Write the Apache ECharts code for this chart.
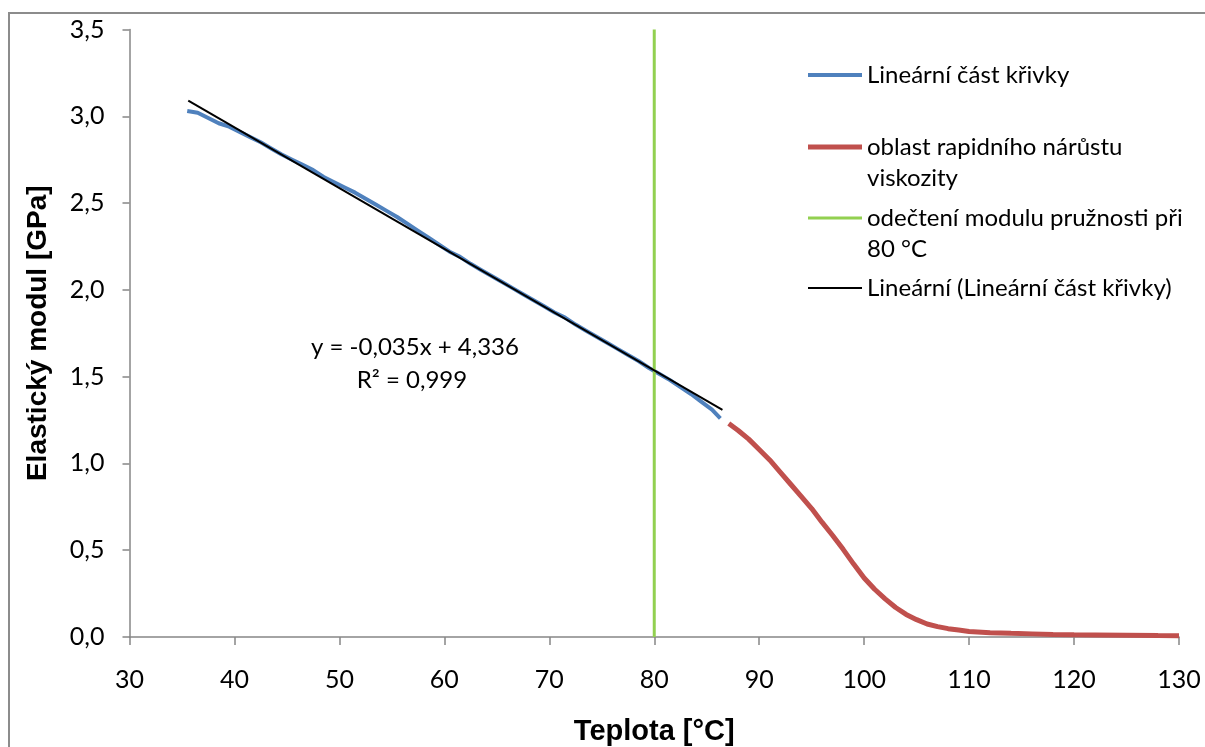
<!DOCTYPE html>
<html>
<head>
<meta charset="utf-8">
<script src="https://cdn.jsdelivr.net/npm/echarts@6/dist/echarts.min.js"></script>
<style>
html,body{margin:0;padding:0;background:#fff;}
#chart{width:1205px;height:747px;}
</style>
</head>
<body>
<div id="chart"></div>
<script>
// Blue: linear part of the curve [temperature °C, modulus GPa]
const linearPart = [
  [35.5,3.03],[36.5,3.02],[37.5,2.99],[38.5,2.96],[39.5,2.94],[40.5,2.91],[41.5,2.88],
  [42.5,2.85],[43.5,2.815],[44.5,2.78],[45.5,2.75],[46.5,2.72],[47.5,2.69],[48.5,2.65],
  [49.5,2.62],[50.5,2.59],[51.5,2.56],[52.5,2.525],[53.5,2.49],[54.5,2.455],[55.5,2.42],
  [56.5,2.38],[57.5,2.34],[58.5,2.30],[59.5,2.26],[60.5,2.22],[61.5,2.19],[62.5,2.15],
  [63.5,2.115],[64.5,2.08],[65.5,2.045],[66.5,2.01],[67.5,1.975],[68.5,1.94],[69.5,1.905],
  [70.5,1.87],[71.5,1.84],[72.5,1.80],[73.5,1.765],[74.5,1.73],[75.5,1.695],[76.5,1.66],
  [77.5,1.625],[78.5,1.59],[79.5,1.55],[80.5,1.515],[81.5,1.48],[82.5,1.44],[83.5,1.40],
  [84.5,1.355],[85.5,1.31],[86.3,1.26]
];
// Red: region of rapid viscosity increase
const rapidPart = [
  [87.1,1.23],[88.0,1.19],[89.0,1.14],[90.0,1.08],[91.0,1.02],[92.0,0.95],[93.0,0.88],
  [94.0,0.81],[95.0,0.74],[96.0,0.66],[97.0,0.585],[98.0,0.505],[99.0,0.42],[100.0,0.34],
  [101.0,0.275],[102.0,0.22],[103.0,0.17],[104.0,0.13],[105.0,0.10],[106.0,0.075],
  [107.0,0.06],[108.0,0.048],[109.0,0.04],[110.0,0.032],[112.0,0.025],[114.0,0.021],
  [116.0,0.018],[118.0,0.015],[120.0,0.013],[122.0,0.012],[125.0,0.010],[128.0,0.008],
  [130.0,0.007]
];
// Green: reading at 80 °C
const readLine80 = [[80,0],[80,3.5]];
// Black: linear trendline y = -0.035x + 4.336
const trendLine = [[35.6,3.090],[86.5,1.308]];

const seriesNames = [
  'Lineární část křivky',
  'oblast rapidního nárůstu viskozity',
  'odečtení modulu pružnosti při 80 °C',
  'Lineární (Lineární část křivky)'
];
const legendLabels = [
  'Lineární část křivky',
  '\noblast rapidního nárůstu\nviskozity',
  '\nodečtení modulu pružnosti při\n80 °C',
  'Lineární (Lineární část křivky)'
];
const equationText = ['y = -0,035x + 4,336', 'R² = 0,999'];
const xTitle = 'Teplota [°C]';
const yTitle = 'Elastický modul [GPa]';

const colors = ['#4F81BD','#C0504D','#92D050','#000000'];
const widths = [4,5,3,2];
const FONT = 'Lato, "Open Sans", sans-serif';
const LH = 31;

function makeLegend(i, top){
  return {
    show:true, selectedMode:false, orient:'vertical', left:808, top:top, padding:0,
    icon:'rect', itemWidth:54, itemHeight:widths[i],
    data:[{name:seriesNames[i], itemStyle:{color:colors[i]}}],
    formatter:function(){return legendLabels[i];},
    textStyle:{fontFamily:FONT, fontSize:24, color:'#000', lineHeight:LH}
  };
}

const chart = echarts.init(document.getElementById('chart'));
chart.setOption({
  animation:false,
  backgroundColor:'#fff',
  grid:{left:129.5, right:26, top:29.5, bottom:110, containLabel:false, outerBoundsMode:'none'},
  legend:[
    makeLegend(0, 75-LH/2),
    makeLegend(1, 147-1.5*LH),
    makeLegend(2, 218-1.5*LH),
    makeLegend(3, 288-LH/2)
  ],
  xAxis:{
    type:'value', min:30, max:130, interval:10,
    name:xTitle, nameLocation:'middle', nameGap:80,
    nameTextStyle:{fontFamily:'"Liberation Sans", Arial, sans-serif', fontWeight:'bold', fontSize:29, color:'#000'},
    axisLine:{show:true, lineStyle:{color:'#868686', width:1.5}},
    axisTick:{show:true, inside:false, length:8, lineStyle:{color:'#868686', width:1.5}},
    axisLabel:{fontFamily:FONT, fontSize:25, color:'#000', margin:30},
    splitLine:{show:false}
  },
  yAxis:{
    type:'value', min:0, max:3.5, interval:0.5,
    name:yTitle, nameLocation:'middle', nameGap:77, nameRotate:90,
    nameTextStyle:{fontFamily:'"Liberation Sans", Arial, sans-serif', fontWeight:'bold', fontSize:28, color:'#000'},
    axisLine:{show:true, lineStyle:{color:'#868686', width:1.5}},
    axisTick:{show:true, inside:false, length:7, lineStyle:{color:'#868686', width:1.5}},
    axisLabel:{fontFamily:FONT, fontSize:25, color:'#000', margin:25,
      formatter:function(v){return v.toFixed(1).replace('.',',');}},
    splitLine:{show:false}
  },
  series:[
    {name:seriesNames[0], type:'line', data:linearPart, showSymbol:false, symbol:'none',
     lineStyle:{color:colors[0], width:widths[0]}, itemStyle:{color:colors[0]}, z:2},
    {name:seriesNames[1], type:'line', data:rapidPart, showSymbol:false, symbol:'none',
     lineStyle:{color:colors[1], width:widths[1]}, itemStyle:{color:colors[1]}, z:2},
    {name:seriesNames[2], type:'line', data:readLine80, showSymbol:false, symbol:'none',
     lineStyle:{color:colors[2], width:widths[2]}, itemStyle:{color:colors[2]}, z:3},
    {name:seriesNames[3], type:'line', data:trendLine, showSymbol:false, symbol:'none',
     lineStyle:{color:colors[3], width:widths[3]}, itemStyle:{color:colors[3]}, z:4}
  ],
  graphic:[
    {type:'rect', silent:true, z:-10, shape:{x:9, y:13, width:1400, height:1000},
     style:{fill:null, stroke:'#8c8c8c', lineWidth:2}},
    {type:'text', silent:true, x:415, y:347,
     style:{text:equationText[0], fontFamily:FONT, fontSize:24, fill:'#000', textAlign:'center', textVerticalAlign:'middle'}},
    {type:'text', silent:true, x:412, y:380,
     style:{text:equationText[1], fontFamily:FONT, fontSize:24, fill:'#000', textAlign:'center', textVerticalAlign:'middle'}}
  ]
});
</script>
</body>
</html>
